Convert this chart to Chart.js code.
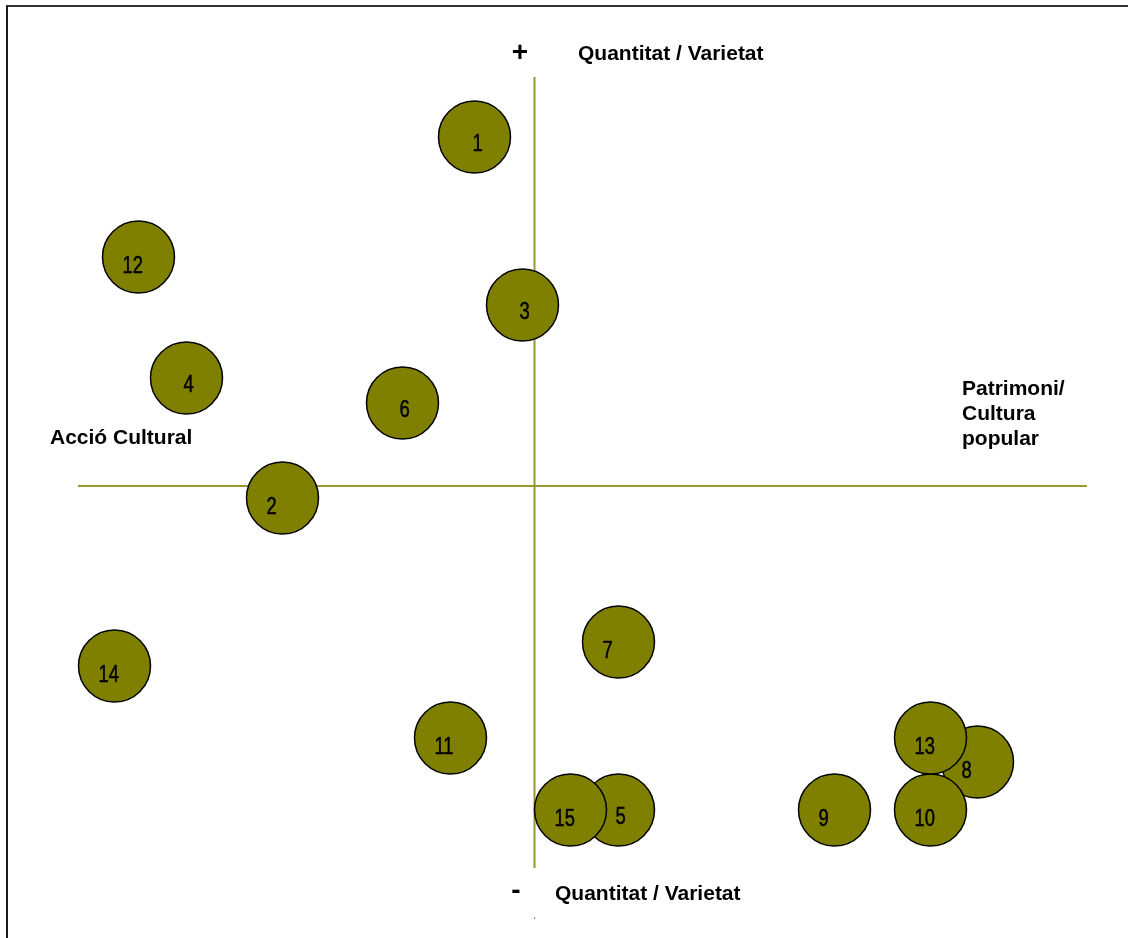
<!DOCTYPE html>
<html>
<head>
<meta charset="utf-8">
<script src="https://cdn.jsdelivr.net/npm/chart.js@4.4.1/dist/chart.umd.min.js"></script>
<style>
  html, body { margin: 0; padding: 0; background: #ffffff; }
  #wrap { position: relative; width: 1128px; height: 938px; overflow: hidden; }
  #frame { position: absolute; left: 6px; top: 5px; width: 1200px; height: 1000px;
           border-left: 2px solid #1a1a1a; border-top: 2px solid #333333; }
  canvas { position: absolute; left: 0; top: 0; }
</style>
</head>
<body>
<div id="wrap">
  <div id="frame"></div>
  <canvas id="c" width="1128" height="938"></canvas>
</div>
<script>
// ---- Data ----
const pointLabels = ['1','2','3','4','5','6','7','8','9','10','11','12','13','14','15'];
const xValues = [-0.60, -2.52, -0.12, -3.48, 0.84, -1.32, 0.84, 4.43, 3.00, 3.96, -0.84, -3.96, 3.96, -4.20, 0.36];
const yValues = [ 3.49, -0.12,  1.81,  1.08, -3.24, 0.83, -1.56, -2.76, -3.24, -3.24, -2.52, 2.29, -2.52, -1.80, -3.24];

// Axis ranges (extent of the two crossing axis lines)
const xRange = [-4.565, 5.525];
const yRange = [-3.82, 4.09];

// Quadrant / axis captions
const topCaption = 'Quantitat / Varietat';
const bottomCaption = 'Quantitat / Varietat';
const leftCaption = 'Acció Cultural';
const rightCaption = ['Patrimoni/', 'Cultura', 'popular'];

const points = pointLabels.map((l, i) => ({ x: xValues[i], y: yValues[i], r: 36 }));

const OLIVE = '#808000';
const AXIS_COLOR = '#9a9630';

const decor = {
  id: 'decor',
  beforeDatasetsDraw(chart) {
    const ctx = chart.ctx;
    const xs = chart.scales.x, ys = chart.scales.y;
    const x0 = xs.getPixelForValue(0), y0 = ys.getPixelForValue(0);
    const a = chart.chartArea;
    ctx.save();
    ctx.strokeStyle = AXIS_COLOR;
    ctx.lineWidth = 2;
    ctx.beginPath();
    ctx.moveTo(x0, a.top); ctx.lineTo(x0, a.bottom);
    ctx.moveTo(a.left, y0); ctx.lineTo(a.right, y0);
    ctx.stroke();
    // tiny tick below the bottom caption
    ctx.lineWidth = 1;
    ctx.beginPath();
    ctx.moveTo(x0, a.bottom + 49); ctx.lineTo(x0, a.bottom + 51);
    ctx.stroke();

    ctx.fillStyle = '#000000';
    ctx.textAlign = 'left';
    ctx.textBaseline = 'alphabetic';
    ctx.font = 'bold 21px "Liberation Sans", Arial, sans-serif';
    ctx.fillText(topCaption, 578, 59.5);
    ctx.fillText(bottomCaption, 555, 899.5);
    ctx.fillText(leftCaption, 50, 444);
    rightCaption.forEach((t, i) => ctx.fillText(t, 962, 395 + i * 25));
    ctx.textAlign = 'center';
    ctx.font = 'bold 28px "Liberation Sans", Arial, sans-serif';
    ctx.fillText('+', 520, 61);
    ctx.fillText('-', 516, 899);
    ctx.restore();
  },
  afterDatasetsDraw(chart) {
    const ctx = chart.ctx;
    const meta = chart.getDatasetMeta(0);
    // label text-box quirks seen in the reference (offset relative to bubble centre)
    const labelShift = { '1': [-2, 14], '3': [-3, 14], '4': [-3, 14], '5': [-3, 14], '6': [-3, 14] };
    ctx.save();
    ctx.fillStyle = '#000000';
    ctx.strokeStyle = '#000000';
    ctx.lineWidth = 0.5;
    ctx.textAlign = 'left';
    ctx.textBaseline = 'alphabetic';
    ctx.font = '23px "Liberation Sans", Arial, sans-serif';
    meta.data.forEach((el, i) => {
      const lab = pointLabels[i];
      const sh = labelShift[lab] || [-16, 16];
      ctx.save();
      ctx.translate(el.x + sh[0], el.y + sh[1]);
      ctx.scale(0.8, 1);
      ctx.fillText(lab, 0, 0);
      ctx.strokeText(lab, 0, 0);
      ctx.restore();
    });
    ctx.restore();
  }
};

new Chart(document.getElementById('c'), {
  type: 'bubble',
  data: {
    datasets: [{
      data: points,
      backgroundColor: OLIVE,
      borderColor: '#000000',
      borderWidth: 1.5,
      hoverBorderWidth: 1.5,
      clip: false
    }]
  },
  options: {
    responsive: false,
    animation: false,
    events: [],
    layout: { padding: { left: 78, right: 41, top: 77, bottom: 70 } },
    plugins: { legend: { display: false }, tooltip: { enabled: false } },
    scales: {
      x: { type: 'linear', min: xRange[0], max: xRange[1], display: false },
      y: { type: 'linear', min: yRange[0], max: yRange[1], display: false }
    }
  },
  plugins: [decor]
});
</script>
</body>
</html>
